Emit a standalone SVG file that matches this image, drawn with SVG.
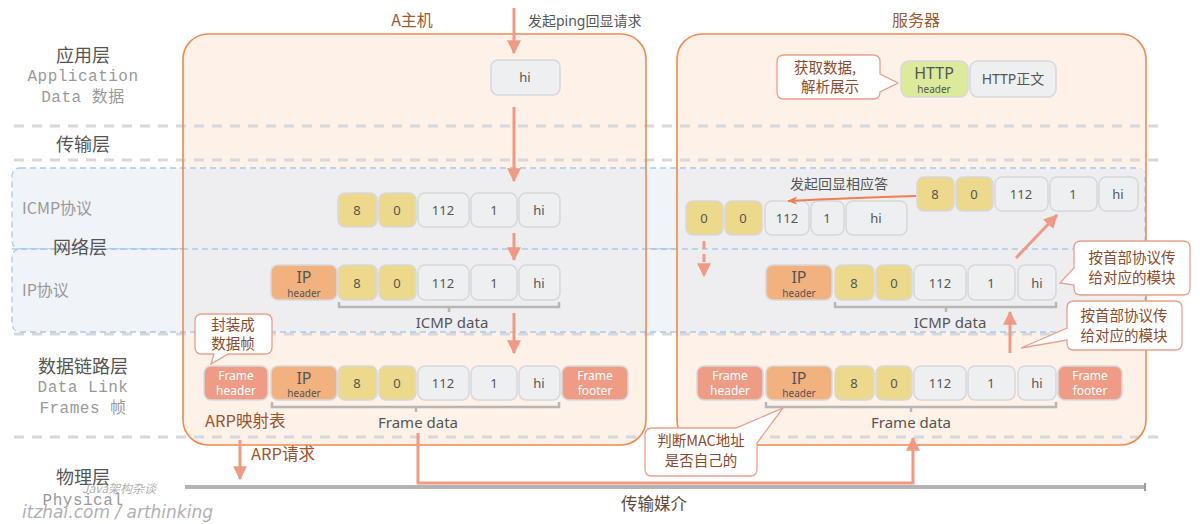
<svg xmlns="http://www.w3.org/2000/svg" width="1200" height="524" viewBox="0 0 1200 524">
<defs>
<style>
.lay{font-family:"Noto Sans CJK SC",sans-serif;font-size:18px;fill:#555;text-anchor:middle}
.en{font-family:"Liberation Mono",monospace;font-size:16px;fill:#999;text-anchor:middle;letter-spacing:0.5px}
.proto{font-family:"Noto Sans CJK SC",sans-serif;font-size:16px;fill:#999}
.sep{stroke:#d6d8db;stroke-width:3;stroke-dasharray:10 8;fill:none}
.net{stroke:#a9c9e9;stroke-width:1.3;stroke-dasharray:6 4}
.host{fill:none;stroke:#f0894f;stroke-width:1.6}
.title{font-family:"Noto Sans CJK SC",sans-serif;font-size:16px;fill:#9b5a33;text-anchor:middle}
.b{stroke:#d8d8dc;stroke-width:1.5}
.g{fill:#eeeff1}
.y{fill:#ecd98b}
.ip{fill:#f2b27f}
.fr{fill:#ee9c86}
.hh{fill:#dcea9c}
.t{font-family:"Noto Sans","Noto Sans CJK SC",sans-serif;font-size:13px;fill:#555;text-anchor:middle}
.big{font-family:"Noto Sans",sans-serif;font-size:16px;fill:#555;text-anchor:middle}
.t14{font-family:"Noto Sans","Noto Sans CJK SC",sans-serif;font-size:14px;fill:#555;text-anchor:middle}
.ts{font-family:"Noto Sans",sans-serif;font-size:10px;fill:#555;text-anchor:middle}
.tw{font-family:"Noto Sans",sans-serif;font-size:12px;fill:#fff;text-anchor:middle}
.lbl{font-family:"Noto Sans","Noto Sans CJK SC",sans-serif;font-size:14px;fill:#555}
.dl{font-family:"Noto Sans",sans-serif;font-size:15px;fill:#555;text-anchor:middle}
.br{stroke:#b7b7b7;stroke-width:2.5;fill:none}
.arr{stroke:#ee9a84;stroke-width:3;fill:none}
.call{fill:#fff;stroke:#e9a08c;stroke-width:1.3}
.ct{font-family:"Noto Sans CJK SC",sans-serif;font-size:14.5px;fill:#8b4a2b;text-anchor:middle}
.brown{font-family:"Noto Sans CJK SC",sans-serif;font-size:16.5px;fill:#9b5330}
</style>
<marker id="ah" markerUnits="userSpaceOnUse" markerWidth="14" markerHeight="14" viewBox="0 0 12 12" refX="11" refY="6" orient="auto">
<path d="M0,0 L12,6 L0,12 z" fill="#ee9a84"/>
</marker>
<marker id="ah2" markerUnits="userSpaceOnUse" markerWidth="10" markerHeight="10" viewBox="0 0 12 12" refX="11" refY="6" orient="auto">
<path d="M0,1 L12,6 L0,11 L3,6 z" fill="#f07e50"/>
</marker>
</defs>

<rect width="1200" height="524" fill="#fff"/>

<!-- host backgrounds -->
<rect x="183" y="34" width="463" height="411" rx="25" fill="#fdf1e8"/>
<rect x="677" y="34" width="469" height="411" rx="25" fill="#fdf1e8"/>

<!-- separator lines -->
<g id="separators">
<line class="sep" x1="14" y1="126" x2="1160" y2="126"/>
<line class="sep" x1="14" y1="160" x2="1160" y2="160"/>
<line class="sep" x1="14" y1="334" x2="1160" y2="334"/>
<line class="sep" x1="14" y1="437" x2="1160" y2="437"/>
</g>

<!-- network layer regions -->
<g id="network-regions">
<rect class="net" x="12" y="168" width="1133" height="81" rx="8" fill="#f0f3f7"/>
<rect class="net" x="12" y="249" width="1133" height="83" rx="8" fill="#f0f3f7"/>
<rect x="184" y="169" width="461" height="162" fill="#eeeef1"/>
<rect x="678" y="169" width="466" height="162" fill="#eeeef1"/>
<line class="net" x1="12" y1="249" x2="1145" y2="249" fill="none"/>
</g>

<!-- host outlines -->
<g id="hostA">
<rect class="host" x="183" y="34" width="463" height="411" rx="25"/>
<text class="title" x="412" y="26">A主机</text>
</g>
<g id="server">
<rect class="host" x="677" y="34" width="469" height="411" rx="25"/>
<text class="title" x="916" y="26">服务器</text>
</g>

<!-- layer labels -->
<g id="layer-labels">
<text class="lay" x="83" y="62">应用层</text>
<text class="en" x="83" y="81">Application</text>
<text class="en" x="83" y="102">Data <tspan font-family="Noto Sans CJK SC">数据</tspan></text>
<text class="lay" x="83" y="151">传输层</text>
<text class="proto" x="22" y="214">ICMP协议</text>
<text class="lay" x="80" y="254">网络层</text>
<text class="proto" x="22" y="296">IP协议</text>
<text class="lay" x="83" y="373">数据链路层</text>
<text class="en" x="83" y="392">Data Link</text>
<text class="en" x="83" y="413">Frames <tspan font-family="Noto Sans CJK SC">帧</tspan></text>
<text class="lay" x="83" y="484">物理层</text>
<text class="en" x="83" y="505">Physical</text>
</g>

<!-- watermark -->
<g id="watermark">
<text x="82" y="493" font-family="Noto Sans CJK SC,sans-serif" font-size="12" fill="#b0b0b0" font-style="italic">Java架构杂谈</text>
<text x="22" y="518" font-family="DejaVu Sans,sans-serif" font-size="17" fill="#b0b0b0" font-style="italic">itzhai.com / arthinking</text>
</g>

<!-- physical medium -->
<g id="medium">
<line x1="185" y1="487" x2="1145" y2="487" stroke="#b3b3b3" stroke-width="4"/>
<line x1="1145" y1="483" x2="1145" y2="491" stroke="#999" stroke-width="2"/>
<text x="654" y="510" font-family="Noto Sans CJK SC,sans-serif" font-size="16.5" fill="#5e4a3c" text-anchor="middle">传输媒介</text>
</g>

<!-- Host A contents -->
<g id="A-app">
<rect class="b g" x="491" y="60" width="69" height="35" rx="7"/>
<text class="t" x="525" y="82">hi</text>
<text class="lbl" x="528" y="26">发起ping回显请求</text>
</g>

<g id="A-icmp">
<rect class="b y" x="338" y="193" width="39" height="34" rx="7"/>
<rect class="b y" x="379" y="193" width="37" height="34" rx="7"/>
<rect class="b g" x="418" y="193" width="51" height="34" rx="7"/>
<rect class="b g" x="471" y="193" width="46" height="34" rx="7"/>
<rect class="b g" x="519" y="193" width="41" height="34" rx="7"/>
<text class="t" x="357" y="215">8</text>
<text class="t" x="397" y="215">0</text>
<text class="t" x="443" y="215">112</text>
<text class="t" x="494" y="215">1</text>
<text class="t" x="539" y="215">hi</text>
</g>

<g id="A-ip">
<rect class="b ip" x="271" y="265" width="66" height="35" rx="7"/>
<rect class="b y" x="338" y="265" width="39" height="35" rx="7"/>
<rect class="b y" x="379" y="265" width="37" height="35" rx="7"/>
<rect class="b g" x="418" y="265" width="51" height="35" rx="7"/>
<rect class="b g" x="471" y="265" width="46" height="35" rx="7"/>
<rect class="b g" x="519" y="265" width="41" height="35" rx="7"/>
<text class="big" x="304" y="283">IP</text>
<text class="ts" x="304" y="297">header</text>
<text class="t" x="357" y="288">8</text>
<text class="t" x="397" y="288">0</text>
<text class="t" x="443" y="288">112</text>
<text class="t" x="494" y="288">1</text>
<text class="t" x="539" y="288">hi</text>
<path class="br" d="M339,302 V307 H559 V302 M449,307 V312"/>
<text class="dl" x="452" y="328">ICMP data</text>
</g>

<g id="A-frame">
<rect class="b fr" x="204" y="366" width="64" height="34" rx="7"/>
<rect class="b ip" x="271" y="366" width="66" height="34" rx="7"/>
<rect class="b y" x="338" y="366" width="39" height="34" rx="7"/>
<rect class="b y" x="379" y="366" width="37" height="34" rx="7"/>
<rect class="b g" x="418" y="366" width="51" height="34" rx="7"/>
<rect class="b g" x="471" y="366" width="46" height="34" rx="7"/>
<rect class="b g" x="519" y="366" width="41" height="34" rx="7"/>
<rect class="b fr" x="562" y="366" width="66" height="34" rx="7"/>
<text class="tw" x="236" y="380">Frame</text>
<text class="tw" x="236" y="395">header</text>
<text class="big" x="304" y="384">IP</text>
<text class="ts" x="304" y="397">header</text>
<text class="t" x="357" y="388">8</text>
<text class="t" x="397" y="388">0</text>
<text class="t" x="443" y="388">112</text>
<text class="t" x="494" y="388">1</text>
<text class="t" x="539" y="388">hi</text>
<text class="tw" x="595" y="380">Frame</text>
<text class="tw" x="595" y="395">footer</text>
<path class="br" d="M272,402 V407 H559 V402 M416,407 V412"/>
<text class="dl" x="418" y="428">Frame data</text>
<text class="brown" x="205" y="427">ARP映射表</text>
</g>

<g id="A-callout">
<path class="call" d="M202,314 H265 Q272,314 272,321 V347 Q272,354 265,354 H228 L211,364 L214,354 H202 Q195,354 195,347 V321 Q195,314 202,314 Z"/>
<text class="ct" x="233" y="330">封装成</text>
<text class="ct" x="233" y="349">数据帧</text>
</g>

<!-- Server contents -->
<g id="S-app">
<path class="call" d="M784,55 H873 Q880,55 880,62 V74 L898,83 L880,92 Q880,99 873,99 H784 Q777,99 777,92 V62 Q777,55 784,55 Z"/>
<text class="ct" x="825" y="73">获取数据,</text>
<text class="ct" x="830" y="92">解析展示</text>
<rect class="b hh" x="901" y="61" width="67" height="36" rx="8"/>
<rect class="b g" x="970" y="61" width="86" height="36" rx="8"/>
<text class="big" x="934" y="79">HTTP</text>
<text class="ts" x="934" y="93">header</text>
<text class="t14" x="1013" y="84">HTTP正文</text>
</g>

<g id="S-icmp-req">
<rect class="b y" x="917" y="177" width="37" height="34" rx="7"/>
<rect class="b y" x="956" y="177" width="37" height="34" rx="7"/>
<rect class="b g" x="995" y="177" width="53" height="34" rx="7"/>
<rect class="b g" x="1050" y="177" width="47" height="34" rx="7"/>
<rect class="b g" x="1099" y="177" width="39" height="34" rx="7"/>
<text class="t" x="935" y="199">8</text>
<text class="t" x="974" y="199">0</text>
<text class="t" x="1021" y="199">112</text>
<text class="t" x="1073" y="199">1</text>
<text class="t" x="1118" y="199">hi</text>
<text class="lbl" x="790" y="189">发起回显相应答</text>
</g>

<g id="S-icmp-reply">
<rect class="b y" x="686" y="201" width="37" height="34" rx="7"/>
<rect class="b y" x="725" y="201" width="37" height="34" rx="7"/>
<rect class="b g" x="765" y="201" width="44" height="34" rx="7"/>
<rect class="b g" x="811" y="201" width="33" height="34" rx="7"/>
<rect class="b g" x="846" y="201" width="61" height="34" rx="7"/>
<text class="t" x="704" y="223">0</text>
<text class="t" x="743" y="223">0</text>
<text class="t" x="787" y="223">112</text>
<text class="t" x="827" y="223">1</text>
<text class="t" x="876" y="223">hi</text>
</g>

<g id="S-ip">
<rect class="b ip" x="766" y="265" width="66" height="35" rx="7"/>
<rect class="b y" x="835" y="265" width="39" height="35" rx="7"/>
<rect class="b y" x="876" y="265" width="36" height="35" rx="7"/>
<rect class="b g" x="914" y="265" width="52" height="35" rx="7"/>
<rect class="b g" x="968" y="265" width="47" height="35" rx="7"/>
<rect class="b g" x="1018" y="265" width="38" height="35" rx="7"/>
<text class="big" x="799" y="283">IP</text>
<text class="ts" x="799" y="297">header</text>
<text class="t" x="854" y="288">8</text>
<text class="t" x="894" y="288">0</text>
<text class="t" x="940" y="288">112</text>
<text class="t" x="991" y="288">1</text>
<text class="t" x="1037" y="288">hi</text>
<path class="br" d="M835,302 V307 H1056 V302 M946,307 V312"/>
<text class="dl" x="950" y="328">ICMP data</text>
</g>

<g id="S-frame">
<rect class="b fr" x="697" y="366" width="66" height="34" rx="7"/>
<rect class="b ip" x="766" y="366" width="66" height="34" rx="7"/>
<rect class="b y" x="835" y="366" width="39" height="34" rx="7"/>
<rect class="b y" x="876" y="366" width="36" height="34" rx="7"/>
<rect class="b g" x="914" y="366" width="52" height="34" rx="7"/>
<rect class="b g" x="968" y="366" width="47" height="34" rx="7"/>
<rect class="b g" x="1018" y="366" width="38" height="34" rx="7"/>
<rect class="b fr" x="1058" y="366" width="64" height="34" rx="7"/>
<text class="tw" x="730" y="380">Frame</text>
<text class="tw" x="730" y="395">header</text>
<text class="big" x="799" y="384">IP</text>
<text class="ts" x="799" y="397">header</text>
<text class="t" x="854" y="388">8</text>
<text class="t" x="894" y="388">0</text>
<text class="t" x="940" y="388">112</text>
<text class="t" x="991" y="388">1</text>
<text class="t" x="1037" y="388">hi</text>
<text class="tw" x="1090" y="380">Frame</text>
<text class="tw" x="1090" y="395">footer</text>
<path class="br" d="M766,402 V407 H1056 V402 M911,407 V412"/>
<text class="dl" x="911" y="428">Frame data</text>
</g>

<g id="S-callout1">
<path class="call" d="M1081,241 H1183 Q1190,241 1190,248 V288 Q1190,295 1183,295 H1081 Q1074,295 1074,288 V285 L1060,283 L1074,268 V248 Q1074,241 1081,241 Z"/>
<text class="ct" x="1132" y="263">按首部协议传</text>
<text class="ct" x="1132" y="283">给对应的模块</text>
</g>
<g id="S-callout2">
<path class="call" d="M1074,301 H1175 Q1182,301 1182,308 V343 Q1182,350 1175,350 H1074 Q1067,350 1067,343 V340 L1021,348 L1067,328 V308 Q1067,301 1074,301 Z"/>
<text class="ct" x="1124" y="321">按首部协议传</text>
<text class="ct" x="1124" y="341">给对应的模块</text>
</g>
<g id="S-callout3">
<path class="call" d="M652,428 H736 L783,408 L757,443 V469 Q757,476 750,476 H652 Q645,476 645,469 V435 Q645,428 652,428 Z"/>
<text class="ct" x="701" y="446">判断MAC地址</text>
<text class="ct" x="701" y="466">是否自己的</text>
</g>

<!-- connectors -->
<g id="connectors">
<line class="arr" x1="514" y1="8" x2="514" y2="53" marker-end="url(#ah)"/>
<line class="arr" x1="514" y1="107" x2="514" y2="181" marker-end="url(#ah)"/>
<line class="arr" x1="514" y1="233" x2="514" y2="260" marker-end="url(#ah)"/>
<line class="arr" x1="514" y1="313" x2="514" y2="353" marker-end="url(#ah)"/>
<line class="arr" x1="240" y1="440" x2="240" y2="479" marker-end="url(#ah)"/>
<text class="brown" x="251" y="460">ARP请求</text>
<polyline class="arr" points="418,433 418,483 913,483 913,438" marker-end="url(#ah)"/>
<line class="arr" x1="1010" y1="353" x2="1010" y2="312" marker-end="url(#ah)"/>
<line class="arr" x1="1016" y1="258" x2="1057" y2="215" marker-end="url(#ah)"/>
<path d="M916,196 Q850,198 788,201" stroke="#f07e50" stroke-width="2" fill="none" marker-end="url(#ah2)"/>
<line class="arr" x1="704" y1="241" x2="704" y2="276" stroke-dasharray="8 5" marker-end="url(#ah)"/>
</g>
</svg>
